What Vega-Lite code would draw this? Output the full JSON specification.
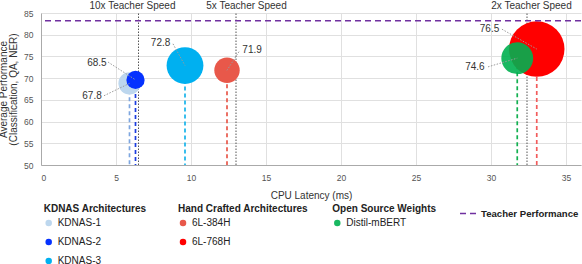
{
  "$schema": "https://vega.github.io/schema/vega-lite/v6.json",
  "width": 540,
  "height": 152,
  "autosize": {"type": "none"},
  "padding": {"left": 41, "top": 13, "right": 1, "bottom": 99},
  "config": {
    "font": "Liberation Sans",
    "view": {"stroke": null},
    "axis": {
      "grid": true, "gridColor": "#e0e0e0", "ticks": false, "labelPadding": 8, "labelFontSize": 8.5, "labelColor": "#555",
      "domainColor": "#aaa", "titleFontSize": 10, "titleFontWeight": "normal", "titleColor": "#333"
    },
    "axisX": {"tickCount": 8, "titlePadding": 9},
    "axisY": {"tickCount": 7, "titleX": -42.5, "titleY": 76, "titleAngle": -90, "titleAlign": "center", "titleBaseline": "top", "titleLineHeight": 10},
    "legend": {
      "padding": 0,
      "titleFontSize": 10,
      "titleFontWeight": "bold",
      "titleColor": "#222",
      "labelFontSize": 10,
      "labelColor": "#222",
      "symbolSize": 42,
      "symbolType": "circle",
      "rowPadding": 9,
      "titlePadding": 4,
      "labelOffset": 4
    }
  },
  "datasets": {
    "models": [
      {"model": "KDNAS-1", "group": "KDNAS Architectures", "lat": 5.9, "perf": 68.8, "label": "67.8", "size": 16, "tx": 3.4, "ty": 66.0, "lx": 4.2, "ly": 65.95},
      {"model": "KDNAS-2", "group": "KDNAS Architectures", "lat": 6.3, "perf": 69.6, "label": "68.5", "size": 10.8, "tx": 3.73, "ty": 73.6, "lx": 4.47, "ly": 73.7},
      {"model": "KDNAS-3", "group": "KDNAS Architectures", "lat": 9.6, "perf": 72.9, "label": "72.8", "size": 44, "tx": 7.97, "ty": 78.16, "lx": 8.8, "ly": 77.9},
      {"model": "6L-384H", "group": "Hand Crafted Architectures", "lat": 12.4, "perf": 71.8, "label": "71.9", "size": 21, "tx": 14.07, "ty": 76.55, "lx": 13.2, "ly": 76.1},
      {"model": "6L-768H", "group": "Hand Crafted Architectures", "lat": 33.05, "perf": 76.7, "label": "76.5", "size": 100, "tx": 29.9, "ty": 81.4, "lx": 30.73, "ly": 81.27},
      {"model": "Distil-mBERT", "group": "Open Source Weights", "lat": 31.75, "perf": 74.6, "label": "74.6", "size": 33, "tx": 28.93, "ty": 72.47, "lx": 29.8, "ly": 72.6}
    ],
    "speeds": [
      {"speed": "10x Teacher Speed", "lat": 6.5, "tx": 6.1},
      {"speed": "5x Teacher Speed", "lat": 13, "tx": 13.7},
      {"speed": "2x Teacher Speed", "lat": 32.4, "tx": 32.7}
    ],
    "teacher": [{"series": "Teacher Performance", "perf": 83.2}]
  },
  "resolve": {"scale": {"color": "independent"}, "legend": {"color": "independent"}},
  "layer": [
    {
      "data": {"name": "models"},
      "mark": {"type": "rule", "strokeDash": [4, 3], "strokeWidth": 1.7},
      "encoding": {
        "x": {"field": "lat", "type": "quantitative", "scale": {"domain": [0, 36], "nice": false, "zero": true}, "title": "CPU Latency (ms)"},
        "y": {"field": "perf", "type": "quantitative", "scale": {"domain": [50, 85], "nice": false, "zero": false}, "title": ["Average Performance", "(Classification, QA, NER)"]},
        "y2": {"datum": 50},
        "color": {"field": "model", "type": "nominal", "legend": null,
          "scale": {"domain": ["KDNAS-1", "KDNAS-2", "KDNAS-3", "6L-384H", "6L-768H", "Distil-mBERT"],
            "range": ["#7ea6e0", "#1b3de0", "#17b3ea", "#e8584a", "#f25c5c", "#12b050"]}}
      }
    },
    {
      "data": {"name": "speeds"},
      "mark": {"type": "rule", "color": "#555", "strokeDash": [1.5, 1.5], "strokeWidth": 1},
      "encoding": {
        "x": {"field": "lat", "type": "quantitative", "scale": {"domain": [0, 36], "nice": false}, "title": "CPU Latency (ms)"},
        "y": {"datum": 50, "type": "quantitative", "scale": {"domain": [50, 85], "nice": false, "zero": false}, "title": ["Average Performance", "(Classification, QA, NER)"]},
        "y2": {"datum": 85}
      }
    },
    {
      "data": {"name": "speeds"},
      "mark": {"type": "text", "color": "#333", "fontSize": 10, "baseline": "alphabetic", "dy": -4, "align": "center"},
      "encoding": {
        "x": {"field": "tx", "type": "quantitative", "scale": {"domain": [0, 36], "nice": false}, "title": "CPU Latency (ms)"},
        "y": {"datum": 85, "type": "quantitative", "scale": {"domain": [50, 85], "nice": false, "zero": false}, "title": ["Average Performance", "(Classification, QA, NER)"]},
        "text": {"field": "speed"}
      }
    },
    {
      "data": {"name": "models"},
      "transform": [{"filter": "datum.group === 'KDNAS Architectures'"}],
      "mark": {"type": "point", "filled": true, "opacity": 1, "strokeWidth": 0},
      "encoding": {
        "x": {"field": "lat", "type": "quantitative", "scale": {"domain": [0, 36], "nice": false}, "title": "CPU Latency (ms)"},
        "y": {"field": "perf", "type": "quantitative", "scale": {"domain": [50, 85], "nice": false, "zero": false}, "title": ["Average Performance", "(Classification, QA, NER)"]},
        "size": {"field": "size", "type": "quantitative", "scale": {"domain": [0, 100], "range": [0, 3080]}, "legend": null},
        "color": {"field": "model", "type": "nominal",
          "scale": {"domain": ["KDNAS-1", "KDNAS-2", "KDNAS-3"], "range": ["#bdd7ee", "#0532ff", "#00b0f0"]},
          "legend": {"title": "KDNAS Architectures", "orient": "none", "legendX": 2.7, "legendY": 191, "symbolType": "circle"}}
      }
    },
    {
      "data": {"name": "models"},
      "transform": [{"filter": "datum.group === 'Hand Crafted Architectures'"}],
      "mark": {"type": "point", "filled": true, "opacity": 1, "strokeWidth": 0},
      "encoding": {
        "x": {"field": "lat", "type": "quantitative", "scale": {"domain": [0, 36], "nice": false}, "title": "CPU Latency (ms)"},
        "y": {"field": "perf", "type": "quantitative", "scale": {"domain": [50, 85], "nice": false, "zero": false}, "title": ["Average Performance", "(Classification, QA, NER)"]},
        "size": {"field": "size", "type": "quantitative", "scale": {"domain": [0, 100], "range": [0, 3080]}, "legend": null},
        "color": {"field": "model", "type": "nominal",
          "scale": {"domain": ["6L-384H", "6L-768H"], "range": ["#e8584a", "#ff0000"]},
          "legend": {"title": "Hand Crafted Architectures", "orient": "none", "legendX": 137, "legendY": 191, "symbolType": "circle"}}
      }
    },
    {
      "data": {"name": "models"},
      "transform": [{"filter": "datum.group === 'Open Source Weights'"}],
      "mark": {"type": "point", "filled": true, "opacity": 0.9, "strokeWidth": 0},
      "encoding": {
        "x": {"field": "lat", "type": "quantitative", "scale": {"domain": [0, 36], "nice": false}, "title": "CPU Latency (ms)"},
        "y": {"field": "perf", "type": "quantitative", "scale": {"domain": [50, 85], "nice": false, "zero": false}, "title": ["Average Performance", "(Classification, QA, NER)"]},
        "size": {"field": "size", "type": "quantitative", "scale": {"domain": [0, 100], "range": [0, 3080]}, "legend": null},
        "color": {"field": "model", "type": "nominal",
          "scale": {"domain": ["Distil-mBERT"], "range": ["#00b050"]},
          "legend": {"title": "Open Source Weights", "orient": "none", "legendX": 291.3, "legendY": 191, "symbolType": "circle"}}
      }
    },
    {
      "data": {"name": "teacher"},
      "mark": {"type": "rule", "color": "#7030a0", "strokeWidth": 1.4},
      "encoding": {
        "y": {"field": "perf", "type": "quantitative", "scale": {"domain": [50, 85], "nice": false, "zero": false}, "title": ["Average Performance", "(Classification, QA, NER)"]},
        "strokeDash": {"field": "series", "type": "nominal", "scale": {"range": [[6, 4]]},
          "legend": {"title": null, "orient": "none", "legendX": 418, "legendY": 191.5, "symbolType": "stroke", "symbolSize": 256,
            "symbolStrokeColor": "#7030a0", "symbolStrokeWidth": 1.5, "labelFontWeight": "bold", "labelFontSize": 9.6, "labelOffset": 4}}
      }
    },
    {
      "data": {"name": "models"},
      "mark": {"type": "rule", "color": "#9a9a9a", "strokeDash": [1.5, 1.5], "strokeWidth": 1},
      "encoding": {
        "x": {"field": "lx", "type": "quantitative", "scale": {"domain": [0, 36], "nice": false}, "title": "CPU Latency (ms)"},
        "y": {"field": "ly", "type": "quantitative", "scale": {"domain": [50, 85], "nice": false, "zero": false}, "title": ["Average Performance", "(Classification, QA, NER)"]},
        "x2": {"field": "lat"},
        "y2": {"field": "perf"}
      }
    },
    {
      "data": {"name": "models"},
      "mark": {"type": "text", "color": "#333", "fontSize": 10, "align": "center", "baseline": "middle"},
      "encoding": {
        "x": {"field": "tx", "type": "quantitative", "scale": {"domain": [0, 36], "nice": false}, "title": "CPU Latency (ms)"},
        "y": {"field": "ty", "type": "quantitative", "scale": {"domain": [50, 85], "nice": false, "zero": false}, "title": ["Average Performance", "(Classification, QA, NER)"]},
        "text": {"field": "label"}
      }
    }
  ]
}
